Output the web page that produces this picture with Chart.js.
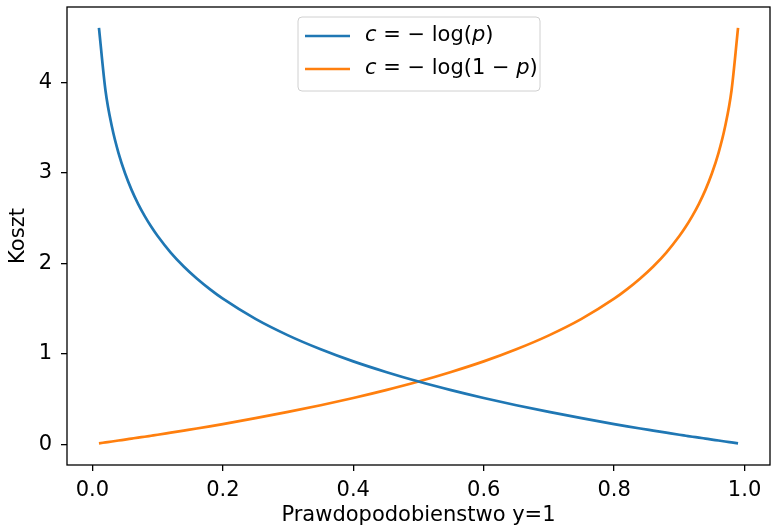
<!DOCTYPE html>
<html lang="pl">
<head>
<meta charset="UTF-8">
<title>Koszt</title>
<style>
    body { margin: 0; background: #fff; }
    #chart { display: block; }
</style>
</head>
<body>
<canvas id="chart" width="771" height="529"></canvas>
<script src="https://cdn.jsdelivr.net/npm/chart.js"></script>
<script>
    // prawdopodobienstwo y=1
    const probs = [0.01, 0.02, 0.03, 0.04, 0.05, 0.06, 0.07, 0.08, 0.09, 0.10,
        0.12, 0.14, 0.16, 0.18, 0.20, 0.25, 0.30, 0.35, 0.40, 0.45, 0.50,
        0.55, 0.60, 0.65, 0.70, 0.75, 0.80, 0.82, 0.84, 0.86, 0.88, 0.90,
        0.91, 0.92, 0.93, 0.94, 0.95, 0.96, 0.97, 0.98, 0.99];
    // c = -log(p)
    const costPos = [4.605, 3.912, 3.507, 3.219, 2.996, 2.813, 2.659, 2.526, 2.408, 2.303,
        2.120, 1.966, 1.833, 1.715, 1.609, 1.386, 1.204, 1.050, 0.916, 0.799, 0.693,
        0.598, 0.511, 0.431, 0.357, 0.288, 0.223, 0.198, 0.174, 0.151, 0.128, 0.105,
        0.094, 0.083, 0.073, 0.062, 0.051, 0.041, 0.030, 0.020, 0.010];
    // c = -log(1-p)
    const costNeg = [0.010, 0.020, 0.030, 0.041, 0.051, 0.062, 0.073, 0.083, 0.094, 0.105,
        0.128, 0.151, 0.174, 0.198, 0.223, 0.288, 0.357, 0.431, 0.511, 0.598, 0.693,
        0.799, 0.916, 1.050, 1.204, 1.386, 1.609, 1.715, 1.833, 1.966, 2.120, 2.303,
        2.408, 2.526, 2.659, 2.813, 2.996, 3.219, 3.507, 3.912, 4.605];
    const xTicks = [0, 0.2, 0.4, 0.6, 0.8, 1.0];
    const yTicks = [0, 1, 2, 3, 4];

    // legend labels, split into upright / italic pieces (mathtext look)
    const legendLabels = [
        [['c', true], [' = \u2212 log(', false], ['p', true], [')', false]],
        [['c', true], [' = \u2212 log(1 \u2212 ', false], ['p', true], [')', false]]
    ];

    const FONT = "'DejaVu Sans', sans-serif";
    Chart.defaults.font.family = FONT;
    Chart.defaults.font.size = 21;
    Chart.defaults.color = '#000';

    const toPoints = ys => probs.map((p, i) => ({ x: p, y: ys[i] }));

    // frame around the plot + boxed legend
    const framePlugin = {
        id: 'frame',
        afterDatasetsDraw(chart) {
            const { ctx, chartArea: a } = chart;
            ctx.save();
            ctx.strokeStyle = '#000';
            ctx.lineWidth = 1.3;
            ctx.strokeRect(a.left, a.top, a.right - a.left, a.bottom - a.top);

            // legend box
            const bx = 298, by = 17, bw = 242, bh = 74, r = 4;
            ctx.beginPath();
            ctx.roundRect(bx, by, bw, bh, r);
            ctx.fillStyle = 'rgba(255,255,255,0.8)';
            ctx.fill();
            ctx.strokeStyle = '#d0d0d0';
            ctx.lineWidth = 1;
            ctx.stroke();

            const rows = [36, 69];
            chart.data.datasets.forEach((ds, i) => {
                const y = rows[i];
                ctx.beginPath();
                ctx.moveTo(305, y);
                ctx.lineTo(350, y);
                ctx.strokeStyle = ds.borderColor;
                ctx.lineWidth = ds.borderWidth;
                ctx.stroke();
                let x = 365;
                ctx.fillStyle = '#000';
                ctx.textBaseline = 'middle';
                ctx.textAlign = 'left';
                legendLabels[i].forEach(([txt, it]) => {
                    ctx.font = (it ? 'oblique ' : '') + '21px ' + FONT;
                    ctx.fillText(txt, x, y);
                    x += ctx.measureText(txt).width;
                });
            });
            ctx.restore();
        }
    };

    new Chart(document.getElementById('chart'), {
        type: 'line',
        data: {
            datasets: [
                {
                    label: 'c = -log(p)',
                    data: toPoints(costPos),
                    borderColor: '#1f77b4',
                    borderWidth: 2.7,
                    pointRadius: 0,
                    cubicInterpolationMode: 'monotone'
                },
                {
                    label: 'c = -log(1-p)',
                    data: toPoints(costNeg),
                    borderColor: '#ff7f0e',
                    borderWidth: 2.7,
                    pointRadius: 0,
                    cubicInterpolationMode: 'monotone'
                }
            ]
        },
        options: {
            responsive: false,
            animation: false,
            layout: { padding: { top: 7, right: 1, left: 0, bottom: 0 } },
            plugins: { legend: { display: false }, tooltip: { enabled: false } },
            scales: {
                x: {
                    type: 'linear',
                    min: -0.039,
                    max: 1.039,
                    afterBuildTicks: s => { s.ticks = xTicks.map(v => ({ value: v })); },
                    afterFit: s => { s.height = 64; s.paddingLeft = 0; s.paddingRight = 0; },
                    ticks: { callback: v => v.toFixed(1), padding: 7, maxRotation: 0 },
                    grid: { drawOnChartArea: false, color: '#000', lineWidth: 1.3, tickLength: 6 },
                    border: { display: false },
                    title: { display: true, text: 'Prawdopodobienstwo y=1', padding: { top: 0, bottom: 1 } }
                },
                y: {
                    min: -0.2297,
                    max: 4.835,
                    afterBuildTicks: s => { s.ticks = yTicks.map(v => ({ value: v })); },
                    afterFit: s => { s.width = 67; s.paddingTop = 0; s.paddingBottom = 0; },
                    ticks: { callback: v => String(v), padding: 9 },
                    grid: { drawOnChartArea: false, color: '#000', lineWidth: 1.3, tickLength: 6 },
                    border: { display: false },
                    title: { display: true, text: 'Koszt', padding: { top: 6, bottom: 0 } }
                }
            }
        },
        plugins: [framePlugin]
    });
</script>
</body>
</html>
